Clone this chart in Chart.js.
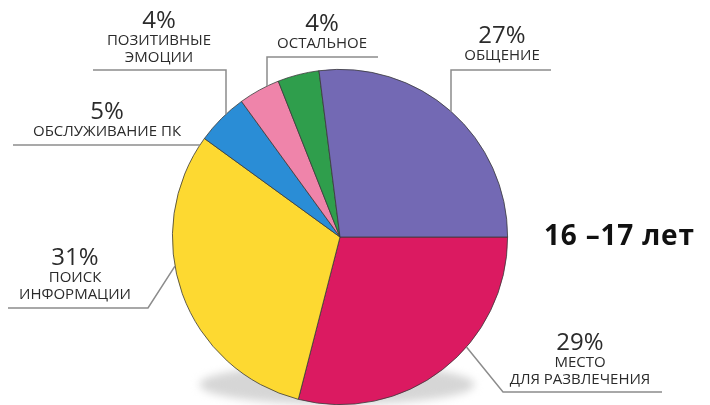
<!DOCTYPE html>
<html>
<head>
<meta charset="utf-8">
<script src="https://cdn.jsdelivr.net/npm/chart.js@4"></script>
<style>
html,body{margin:0;padding:0;background:#fff;}
#wrap{width:710px;height:405px;position:relative;}
</style>
</head>
<body>
<div id="wrap"><canvas id="c" width="710" height="405"></canvas></div>
<script>
// ---- data ----
const categories = ["МЕСТО\nДЛЯ РАЗВЛЕЧЕНИЯ", "ПОИСК\nИНФОРМАЦИИ", "ОБСЛУЖИВАНИЕ ПК", "ПОЗИТИВНЫЕ\nЭМОЦИИ", "ОСТАЛЬНОЕ", "ОБЩЕНИЕ"];
const values = [29, 31, 5, 4, 4, 27];
const colors = ["#db1a61", "#fdd931", "#2a8dd6", "#ef84aa", "#2f9e4c", "#7369b4"];
const title = "16 –17 лет";

// ---- label layout (text anchor + leader line path; final segment ends on the pie edge) ----
const labelLayout = [
  {tx: 580, ty: 343, line: [[662,392],[503,392]], end: {deg: 41}},
  {tx: 75,  ty: 258, line: [[8,308],[148,308]],   end: {deg: 170}},
  {tx: 107, ty: 112, line: [[13,145]],            end: {y: 145}},
  {tx: 159, ty: 21,  line: [[93,70],[226,70]],    end: {x: 226}},
  {tx: 322, ty: 24,  line: [[378,57],[267,57]],   end: {x: 267}},
  {tx: 502, ty: 36,  line: [[551,70],[451,70]],   end: {x: 451}}
];

const decor = {
  id: 'decor',
  beforeDatasetsDraw(chart) {
    const arc = chart.getDatasetMeta(0).data[0];
    const ctx = chart.ctx;
    const cx = arc.x, cy = arc.y, r = arc.outerRadius;
    ctx.save();
    ctx.filter = 'blur(4px)';
    ctx.fillStyle = '#d6d6d6';
    ctx.beginPath();
    ctx.ellipse(cx - 3, cy + r * 0.88, r * 0.82, r * 0.12, 0, 0, Math.PI * 2);
    ctx.fill();
    ctx.restore();
  },
  afterDatasetsDraw(chart) {
    const arc = chart.getDatasetMeta(0).data[0];
    const ctx = chart.ctx;
    const cx = arc.x, cy = arc.y, r = arc.outerRadius;
    ctx.save();
    ctx.strokeStyle = '#8c8c8c';
    ctx.lineWidth = 1.5;
    labelLayout.forEach((L) => {
      const pts = L.line.slice();
      let e;
      if (L.end.deg !== undefined) {
        const a = L.end.deg * Math.PI / 180;
        e = [cx + r * Math.cos(a), cy + r * Math.sin(a)];
      } else if (L.end.x !== undefined) {
        e = [L.end.x, cy - Math.sqrt(r * r - (L.end.x - cx) ** 2)];
      } else {
        e = [cx - Math.sqrt(r * r - (L.end.y - cy) ** 2), L.end.y];
      }
      pts.push(e);
      ctx.beginPath();
      ctx.moveTo(pts[0][0], pts[0][1]);
      for (let i = 1; i < pts.length; i++) ctx.lineTo(pts[i][0], pts[i][1]);
      ctx.stroke();
    });
    ctx.fillStyle = '#2b2b2b';
    ctx.textAlign = 'center';
    ctx.textBaseline = 'middle';
    labelLayout.forEach((L, i) => {
      ctx.font = '400 24px "Open Sans"';
      ctx.fillText(values[i] + '%', L.tx, L.ty);
      ctx.font = '500 15px "Open Sans"';
      const lines = categories[i].split('\n');
      lines.forEach((t, k) => {
        ctx.fillText(t, L.tx, L.ty + 20 + k * 17);
      });
    });
    ctx.font = '700 28px "Open Sans"';
    ctx.letterSpacing = '0.8px';
    ctx.textAlign = 'left';
    ctx.fillStyle = '#111';
    ctx.fillText(title, 544, 237);
    ctx.restore();
  }
};

new Chart(document.getElementById('c'), {
  type: 'pie',
  data: {
    labels: categories,
    datasets: [{
      data: values,
      backgroundColor: colors,
      borderColor: '#3a3a3a',
      borderWidth: 0.8
    }]
  },
  options: {
    responsive: false,
    animation: false,
    rotation: 90,
    layout: {padding: {top: 69, bottom: 0, left: 100, right: 130}},
    plugins: {legend: {display: false}, tooltip: {enabled: false}}
  },
  plugins: [decor]
});
</script>
</body>
</html>
